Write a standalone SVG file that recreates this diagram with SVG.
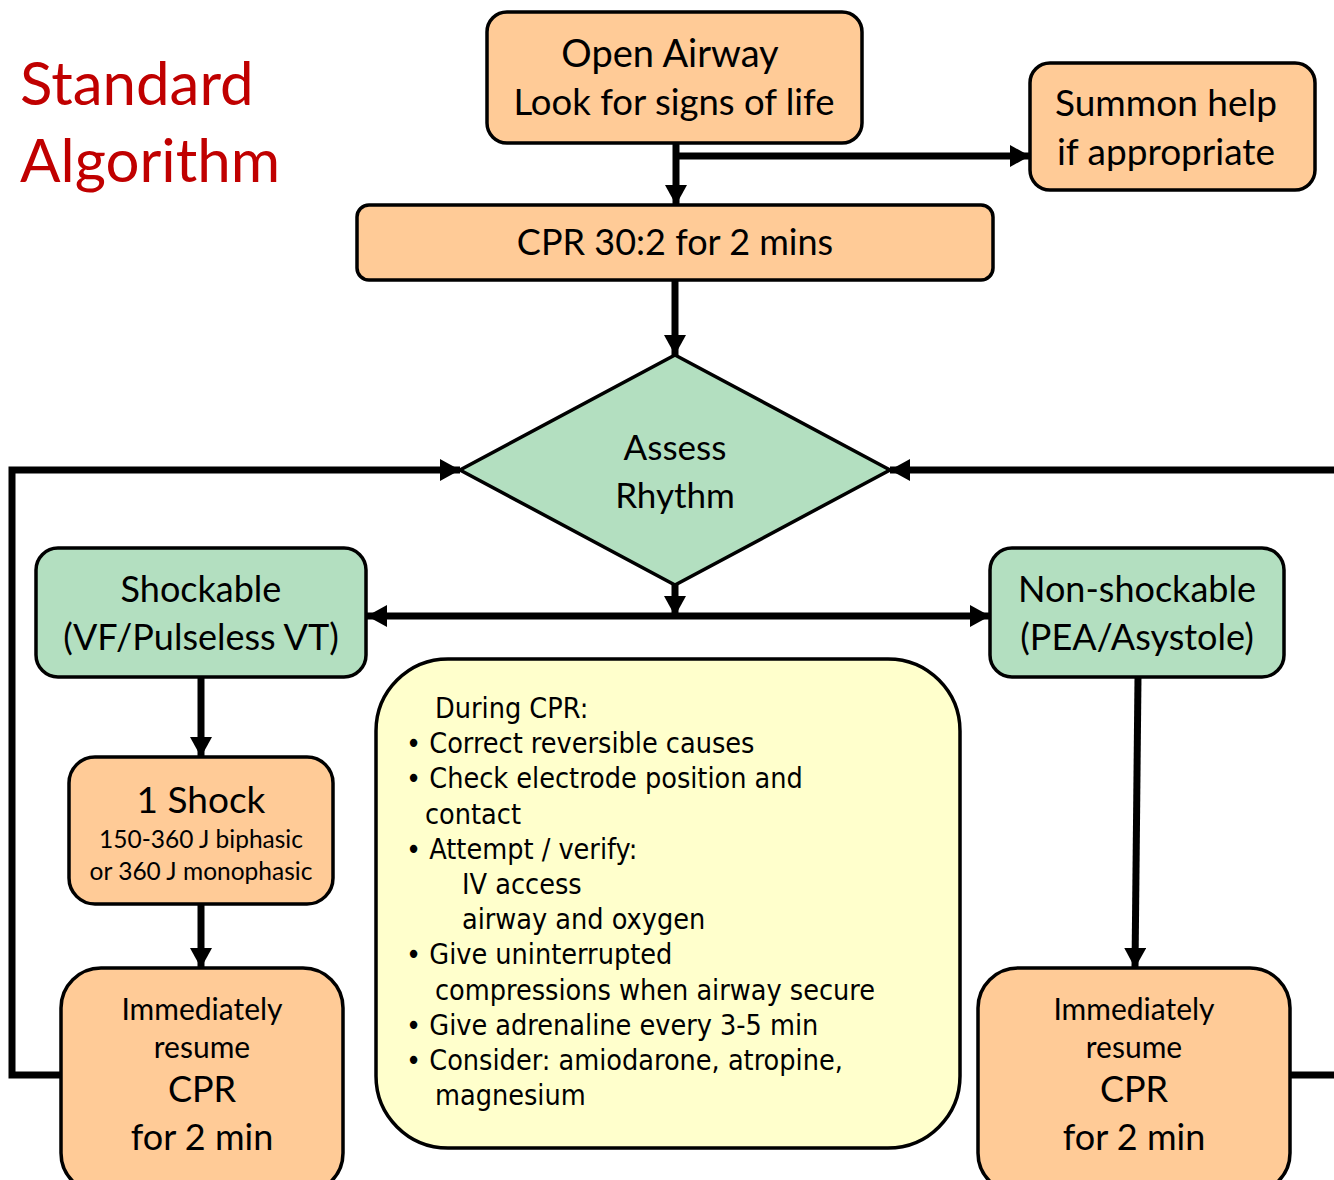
<svg xmlns="http://www.w3.org/2000/svg" width="1334" height="1180" viewBox="0 0 1334 1180">
<defs>
<marker id="ah" markerUnits="userSpaceOnUse" markerWidth="24" markerHeight="24" refX="20" refY="11" orient="auto">
<path d="M0,0 L20,11 L0,22 z" fill="#000"/>
</marker>
<style>
.box{stroke:#000;stroke-width:3.5}
.peach{fill:#FFCB97}
.green{fill:#B3DFC0}
.yellow{fill:#FFFFCC}
.t{font-family:Lato,"Open Sans","Liberation Sans",sans-serif;fill:#000;text-anchor:middle}
.y{font-family:"DejaVu Sans Condensed","DejaVu Sans",sans-serif;font-stretch:condensed;font-size:28.5px;fill:#000}
.c{fill:none;stroke:#000;stroke-width:7}
</style>
</defs>
<rect width="1334" height="1180" fill="#fff"/>
<g id="title">
<text x="20" y="105" font-family="Lato,'Open Sans',sans-serif" font-size="60" fill="#C00000">Standard</text>
<text x="20" y="182" font-family="Lato,'Open Sans',sans-serif" font-size="60" fill="#C00000">Algorithm</text>
</g>
<g id="connectors">
<line class="c" x1="676" y1="143" x2="676" y2="205" marker-end="url(#ah)"/>
<line class="c" x1="676" y1="156" x2="1030" y2="156" marker-end="url(#ah)"/>
<line class="c" x1="675" y1="280" x2="675" y2="355" marker-end="url(#ah)"/>
<line class="c" x1="675" y1="585" x2="675" y2="616" marker-end="url(#ah)"/>
<line class="c" x1="675" y1="616" x2="367" y2="616" marker-end="url(#ah)"/>
<line class="c" x1="675" y1="616" x2="990" y2="616" marker-end="url(#ah)"/>
<line class="c" x1="201" y1="677" x2="201" y2="757" marker-end="url(#ah)"/>
<line class="c" x1="201" y1="904" x2="201" y2="968" marker-end="url(#ah)"/>
<line class="c" x1="1138" y1="677" x2="1135" y2="968" marker-end="url(#ah)"/>
<polyline class="c" points="61,1075 12,1075 12,470 460,470" marker-end="url(#ah)"/>
<line class="c" x1="1290" y1="1075" x2="1340" y2="1075"/>
<line class="c" x1="1340" y1="470" x2="890" y2="470" marker-end="url(#ah)"/>
</g>
<g id="open-airway">
<rect class="box peach" x="487" y="12" width="375" height="131" rx="20"/>
<text class="t" x="670" y="67" font-size="38">Open Airway</text>
<text class="t" x="674" y="115" font-size="36.5">Look for signs of life</text>
</g>
<g id="summon-help">
<rect class="box peach" x="1030" y="63" width="285" height="127" rx="20"/>
<text class="t" x="1166" y="116" font-size="37">Summon help</text>
<text class="t" x="1166" y="165" font-size="37">if appropriate</text>
</g>
<g id="cpr-30-2">
<rect class="box peach" x="357" y="205" width="636" height="75" rx="12"/>
<text class="t" x="675" y="255" font-size="36">CPR 30:2 for 2 mins</text>
</g>
<g id="assess-rhythm">
<polygon class="box green" points="675,355 890,470 675,585 460,470"/>
<text class="t" x="675" y="460" font-size="35">Assess</text>
<text class="t" x="675" y="508" font-size="35">Rhythm</text>
</g>
<g id="shockable">
<rect class="box green" x="36" y="548" width="330" height="129" rx="22"/>
<text class="t" x="201" y="602" font-size="36">Shockable</text>
<text class="t" x="201" y="650" font-size="36">(VF/Pulseless VT)</text>
</g>
<g id="non-shockable">
<rect class="box green" x="990" y="548" width="294" height="129" rx="22"/>
<text class="t" x="1137" y="602" font-size="36">Non-shockable</text>
<text class="t" x="1137" y="650" font-size="36">(PEA/Asystole)</text>
</g>
<g id="one-shock">
<rect class="box peach" x="69" y="757" width="264" height="147" rx="26"/>
<text class="t" x="201" y="813" font-size="37">1 Shock</text>
<text class="t" x="201" y="848" font-size="24.5">150-360 J biphasic</text>
<text class="t" x="201" y="880" font-size="24.5">or 360 J monophasic</text>
</g>
<g id="resume-left">
<rect class="box peach" x="61" y="968" width="282" height="225" rx="40"/>
<text class="t" x="202" y="1020" font-size="30">Immediately</text>
<text class="t" x="202" y="1058" font-size="30">resume</text>
<text class="t" x="202" y="1102" font-size="36">CPR</text>
<text class="t" x="202" y="1150" font-size="36">for 2 min</text>
</g>
<g id="resume-right">
<rect class="box peach" x="978" y="968" width="312" height="225" rx="40"/>
<text class="t" x="1134" y="1020" font-size="30">Immediately</text>
<text class="t" x="1134" y="1058" font-size="30">resume</text>
<text class="t" x="1134" y="1102" font-size="36">CPR</text>
<text class="t" x="1134" y="1150" font-size="36">for 2 min</text>
</g>
<g id="during-cpr">
<rect class="box yellow" x="376" y="659" width="584" height="489" rx="72"/>
<text class="y" x="435" y="718">During CPR:</text>
<text class="y" x="406" y="753">• Correct reversible causes</text>
<text class="y" x="406" y="788">• Check electrode position and</text>
<text class="y" x="425" y="824">contact</text>
<text class="y" x="406" y="859">• Attempt / verify:</text>
<text class="y" x="462" y="894">IV access</text>
<text class="y" x="462" y="929">airway and oxygen</text>
<text class="y" x="406" y="964">• Give uninterrupted</text>
<text class="y" x="435" y="1000">compressions when airway secure</text>
<text class="y" x="406" y="1035">• Give adrenaline every 3-5 min</text>
<text class="y" x="406" y="1070">• Consider: amiodarone, atropine,</text>
<text class="y" x="435" y="1105">magnesium</text>
</g>
</svg>
